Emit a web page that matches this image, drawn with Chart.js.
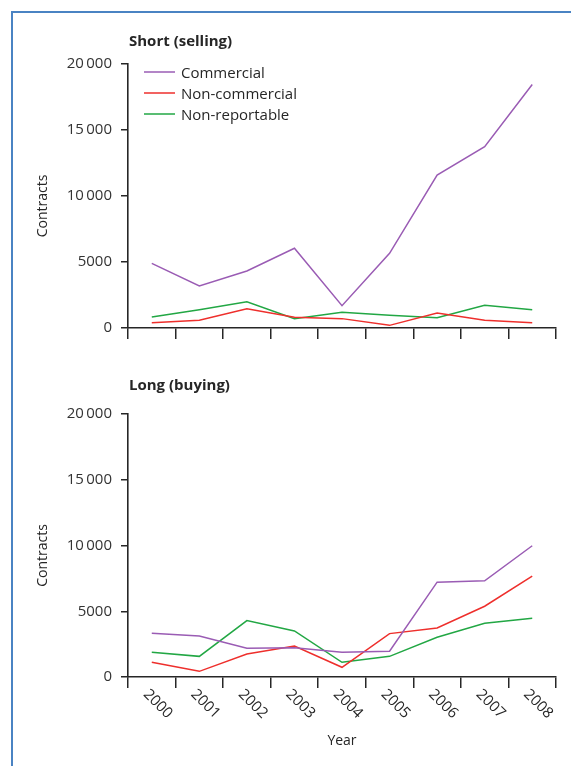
<!DOCTYPE html>
<html>
<head>
<meta charset="utf-8">
<script src="https://cdn.jsdelivr.net/npm/chart.js@4.4.1/dist/chart.umd.min.js"></script>
<style>
    body {
        margin: 0;
        background: #fff;
        width: 571px;
        height: 766px;
        overflow: hidden;
        position: relative;
    }
    #frame {
        position: absolute;
        left: 11px;
        top: 11px;
        width: 640px;
        height: 820px;
        border-top: 2px solid #4a83c3;
        border-left: 2px solid #4a83c3;
    }
    #shortChart {
        position: absolute;
        left: 0;
        top: 0;
    }
    #longChart {
        position: absolute;
        left: 0;
        top: 350px;
    }
</style>
</head>
<body>
<div id="frame"></div>
<canvas id="shortChart" width="571" height="350"></canvas>
<canvas id="longChart" width="571" height="416"></canvas>
<script>
// values
const years = ['2000', '2001', '2002', '2003', '2004', '2005', '2006', '2007', '2008'];

const seriesNames = ['Commercial', 'Non-commercial', 'Non-reportable'];

const shortCommercial = [4900, 3180, 4320, 6040, 1690, 5660, 11590, 13740, 18450];
const shortNonCommercial = [400, 580, 1460, 810, 710, 200, 1140, 580, 400];
const shortNonReportable = [830, 1390, 1990, 700, 1190, 960, 780, 1720, 1390];

const longCommercial = [3330, 3120, 2180, 2230, 1880, 1960, 7210, 7310, 9980];
const longNonCommercial = [1120, 430, 1750, 2360, 740, 3300, 3730, 5380, 7670];
const longNonReportable = [1880, 1570, 4290, 3500, 1120, 1570, 3020, 4090, 4470];

const yTickValues = [0, 5000, 10000, 15000, 20000];
const yTickLabels = ['0', '5000', '10\u2009000', '15\u2009000', '20\u2009000'];

const lineColors = ['#9a5cb4', '#ee2f2c', '#22a744'];
const inkColor = '#262626';
const fontFamily = '"Open Sans", sans-serif';

// panel heading, y title, legend and slanted year labels
const panelExtras = {
    id: 'panelExtras',
    afterDraw(chart, args, opts) {
        const {ctx, chartArea} = chart;
        ctx.save();
        ctx.fillStyle = inkColor;

        ctx.font = 'bold 15px ' + fontFamily;
        ctx.textBaseline = 'alphabetic';
        ctx.textAlign = 'left';
        ctx.fillText(opts.title, chartArea.left + 1, chartArea.top - opts.titleGap);

        // y axis title sits a little below the middle of the axis
        ctx.save();
        ctx.font = '14px ' + fontFamily;
        ctx.textAlign = 'center';
        ctx.textBaseline = 'middle';
        ctx.translate(43, (chartArea.top + chartArea.bottom) / 2 + 10);
        ctx.rotate(-Math.PI / 2);
        ctx.fillText('Contracts', 0, 0);
        ctx.restore();

        if (opts.legend) {
            ctx.font = '15px ' + fontFamily;
            chart.data.datasets.forEach((ds, i) => {
                const y = chartArea.top + 8 + i * 21;
                ctx.strokeStyle = ds.borderColor;
                ctx.lineWidth = 1.5;
                ctx.beginPath();
                ctx.moveTo(chartArea.left + 16, y);
                ctx.lineTo(chartArea.left + 47, y);
                ctx.stroke();
                ctx.fillText(ds.label, chartArea.left + 53, y + 6);
            });
        }

        if (opts.yearLabels) {
            const xScale = chart.scales.x;
            ctx.font = '15px ' + fontFamily;
            ctx.textAlign = 'center';
            ctx.textBaseline = 'middle';
            years.forEach((yr, i) => {
                const x = xScale.getPixelForValue(i);
                ctx.save();
                ctx.translate(x + 6, chartArea.bottom + 27);
                ctx.rotate(Math.PI / 4);
                ctx.fillText(yr, 0, 0);
                ctx.restore();
            });
        }
        ctx.restore();
    }
};

function makeDatasets(values) {
    return values.map((v, i) => ({
        label: seriesNames[i],
        data: v,
        borderColor: lineColors[i],
        backgroundColor: lineColors[i],
        borderWidth: 1.5,
        pointRadius: 0,
        tension: 0,
        fill: false
    }));
}

function makeChart(canvasId, values, extras, xHeight, showYear) {
    return new Chart(document.getElementById(canvasId), {
        type: 'line',
        data: {
            labels: years,
            datasets: makeDatasets(values)
        },
        plugins: [panelExtras],
        options: {
            responsive: false,
            animation: false,
            layout: {
                padding: {top: 64, right: 15, bottom: 0, left: 0}
            },
            plugins: {
                legend: {display: false},
                tooltip: {enabled: false},
                panelExtras: extras
            },
            scales: {
                x: {
                    type: 'category',
                    offset: true,
                    grid: {
                        offset: true,
                        drawOnChartArea: false,
                        drawTicks: true,
                        tickLength: 11,
                        color: inkColor,
                        lineWidth: 1.5
                    },
                    border: {color: inkColor, width: 1.6},
                    ticks: {display: false},
                    title: {
                        display: showYear,
                        text: 'Year',
                        color: inkColor,
                        font: {family: fontFamily, size: 14},
                        padding: {top: 0, bottom: 16.6}
                    },
                    afterFit: s => { s.height = xHeight; }
                },
                y: {
                    min: 0,
                    max: 20000,
                    afterBuildTicks: s => {
                        s.ticks = yTickValues.map(v => ({value: v}));
                    },
                    grid: {
                        drawOnChartArea: false,
                        drawTicks: true,
                        tickLength: 7,
                        color: inkColor,
                        lineWidth: 1.5
                    },
                    border: {color: inkColor, width: 1.6},
                    ticks: {
                        color: '#333',
                        padding: 9,
                        font: {family: fontFamily, size: 15},
                        callback: (v, i) => yTickLabels[i]
                    },
                    afterFit: s => { s.width = 128; }
                }
            }
        }
    });
}

makeChart('shortChart',
        [shortCommercial, shortNonCommercial, shortNonReportable],
        {title: 'Short (selling)', titleGap: 18.5, legend: true, yearLabels: false},
        22, false);

makeChart('longChart',
        [longCommercial, longNonCommercial, longNonReportable],
        {title: 'Long (buying)', titleGap: 24, legend: false, yearLabels: true},
        89, true);
</script>
</body>
</html>
